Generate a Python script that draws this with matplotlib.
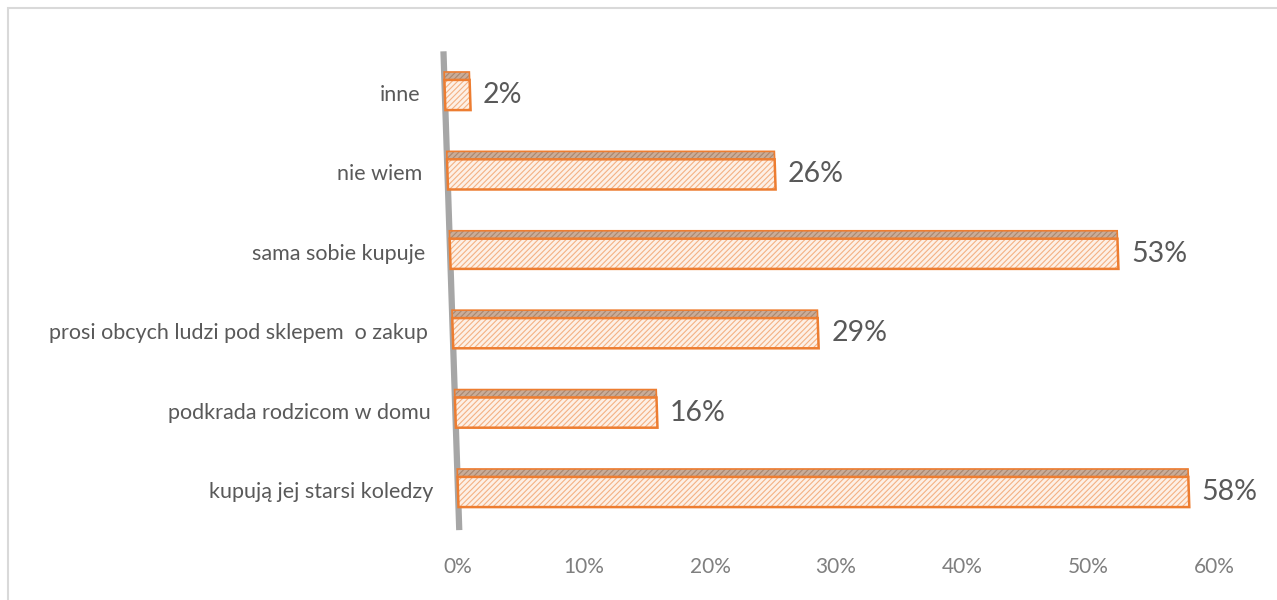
import math
import matplotlib.pyplot as plt
from matplotlib.transforms import Affine2D
from matplotlib.patches import Rectangle

# Dane
kategorie = ['kupują jej starsi koledzy', 'podkrada rodzicom w domu',
             'prosi obcych ludzi pod sklepem  o zakup', 'sama sobie kupuje',
             'nie wiem', 'inne']
wartosci = [58, 16, 29, 53, 26, 2]
ticki = [0, 10, 20, 30, 40, 50, 60]
etykiety_tickow = ['0%', '10%', '20%', '30%', '40%', '50%', '60%']

plt.rcParams['font.family'] = ['Lato', 'DejaVu Sans']
plt.rcParams['hatch.linewidth'] = 0.8

W, H = 1277, 600
fig = plt.figure(figsize=(W / 100, H / 100), dpi=100)

# ramka wykresu
fig.patches.append(Rectangle((8 / W, -0.01), 1.0, 592 / H + 0.01, transform=fig.transFigure,
                             fill=False, edgecolor='#D9D9D9', linewidth=1.5))

ax = fig.add_axes([458 / W, (H - 531.7) / H, 756 / W, 476.4 / H])
ax.set_xlim(0, 60)
ax.set_ylim(-0.5, 5.5)

# pochylenie "3D" (piksele)
y0 = H - 492
k = 0.033
skos = Affine2D().translate(0, -y0).skew(math.atan(-k), 0).translate(0, y0)
tr = ax.transData + skos

y = list(range(len(kategorie)))
h_front = 0.38
h_top = 0.10

# sciana osi
ax.plot([0, 0], [-0.48, 5.55], color='#A6A6A6', linewidth=4.5, transform=tr,
        zorder=1, solid_capstyle='butt', clip_on=False)

for yi, v in zip(y, wartosci):
    # gorna sciana
    ax.barh(yi + h_front / 2 + h_top / 2, v, height=h_top, color='#C9AC98',
            edgecolor='#A88770', hatch='//////', linewidth=0, transform=tr, zorder=2,
            clip_on=False)
    ax.barh(yi + h_front / 2 + h_top / 2, v, height=h_top, fill=False,
            edgecolor='#ED7D31', linewidth=1.2, transform=tr, zorder=3, clip_on=False)
    # przod
    ax.barh(yi, v, height=h_front, color='#FDF0E6', edgecolor='#F4B183',
            hatch='//////', linewidth=0, transform=tr, zorder=3, clip_on=False)
    ax.barh(yi, v, height=h_front, fill=False, edgecolor='#ED7D31',
            linewidth=1.8, transform=tr, zorder=4, clip_on=False)
    ax.annotate(f'{v}%', (v, yi), xytext=(13, 0), textcoords='offset pixels',
                xycoords=tr, ha='left', va='center', fontsize=20.5, color='#595959')

for yi, nazwa in zip(y, kategorie):
    ax.annotate(nazwa, (0, yi), xytext=(-25, 0), textcoords='offset pixels',
                xycoords=tr, ha='right', va='center', fontsize=15.5, color='#595959')

ax.set_yticks([])
ax.set_xticks(ticki)
ax.set_xticklabels(etykiety_tickow, fontsize=15, color='#7F7F7F')
ax.tick_params(axis='x', length=0, pad=18)
for s in ax.spines.values():
    s.set_visible(False)
ax.patch.set_visible(False)

fig.savefig('out.png', dpi=100, facecolor='white')
